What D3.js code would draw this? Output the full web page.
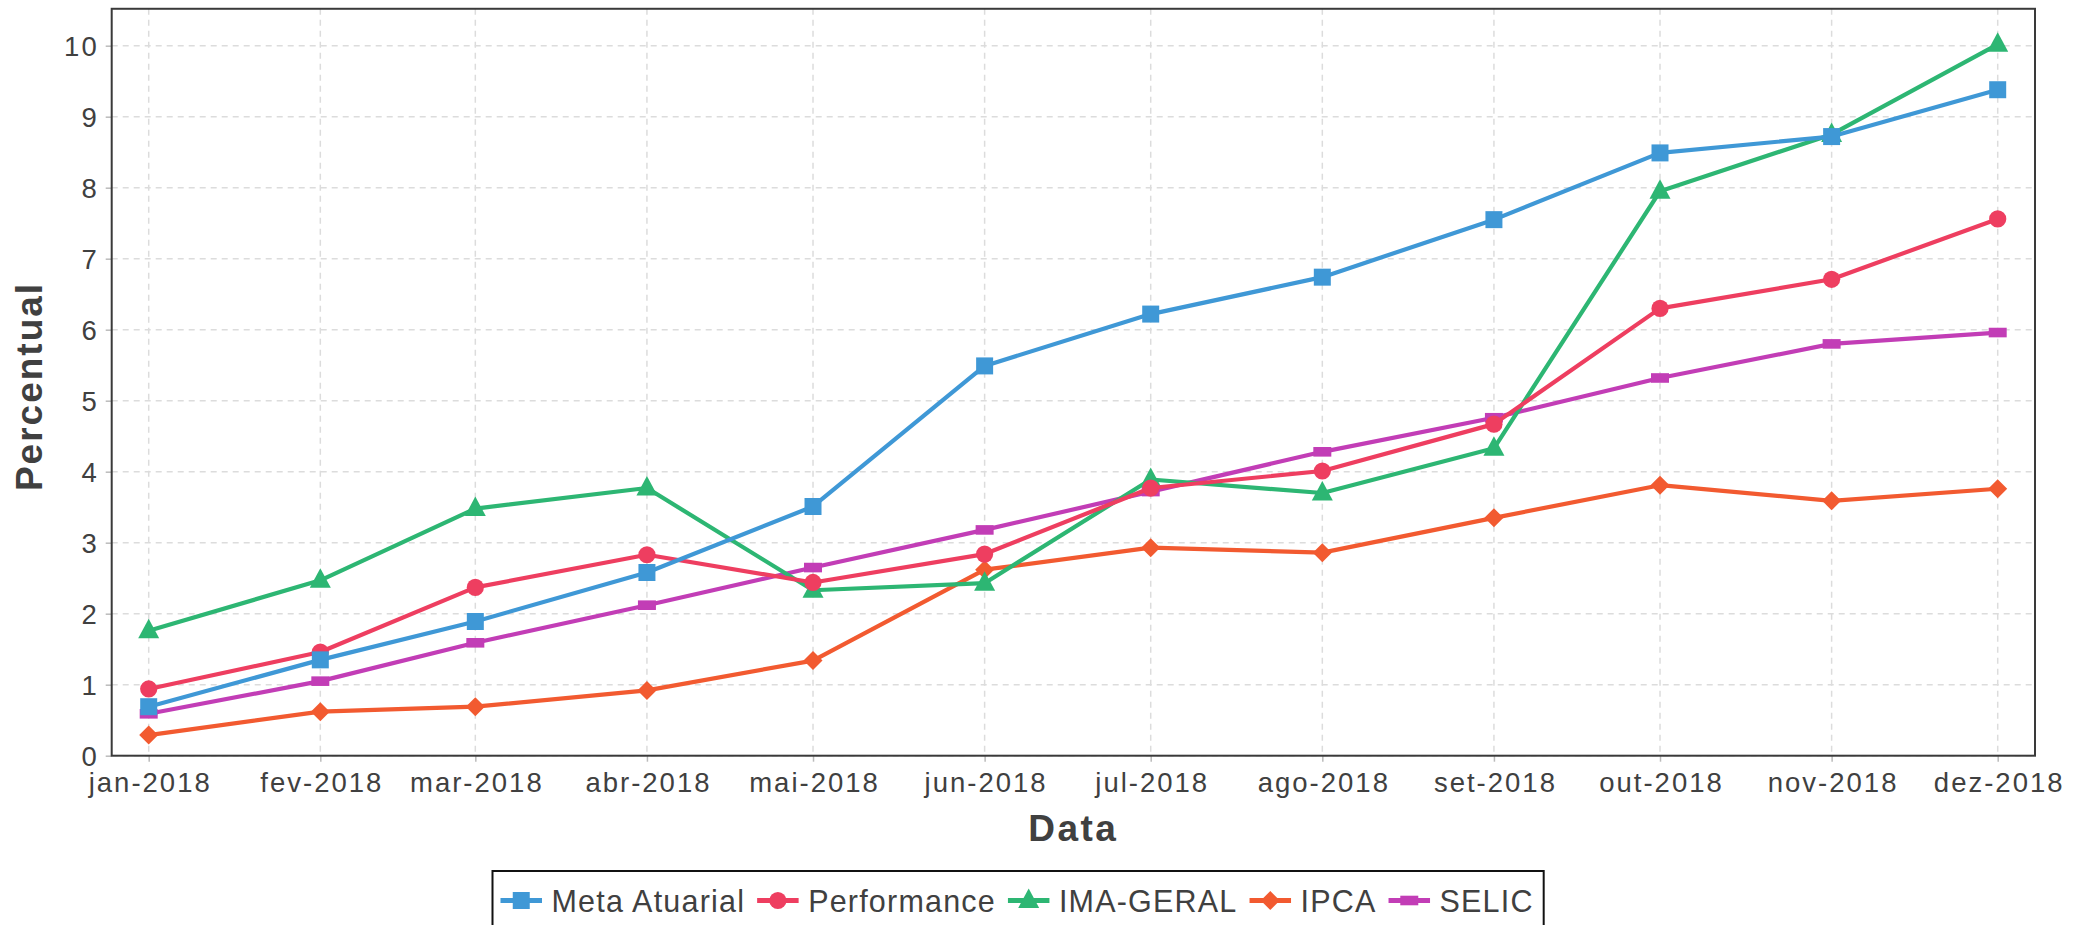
<!DOCTYPE html>
<html><head><meta charset="utf-8">
<script src="https://cdn.jsdelivr.net/npm/d3@7"></script>
<style>
body{margin:0;background:#fff}
svg{display:block}
text{font-family:"Liberation Sans",Arial,Helvetica,sans-serif;fill:#404040}
</style>
</head><body>
<svg id="chart" width="2083" height="925"></svg>
<script>
// ---- data ----
const monthDates = ["2018-01-01","2018-02-01","2018-03-01","2018-04-01","2018-05-01","2018-06-01","2018-07-01","2018-08-01","2018-09-01","2018-10-01","2018-11-01","2018-12-01"];
const monthLabels = ["jan-2018","fev-2018","mar-2018","abr-2018","mai-2018","jun-2018","jul-2018","ago-2018","set-2018","out-2018","nov-2018","dez-2018"];
const metaAtuarial = [0.69,1.35,1.89,2.58,3.51,5.49,6.22,6.74,7.55,8.49,8.72,9.38];
const performance  = [0.94,1.46,2.37,2.83,2.44,2.84,3.77,4.01,4.67,6.30,6.71,7.56];
const imaGeral     = [1.76,2.47,3.48,3.77,2.33,2.43,3.89,3.70,4.33,7.95,8.75,10.02];
const ipca         = [0.29,0.62,0.69,0.92,1.34,2.62,2.93,2.86,3.35,3.81,3.59,3.76];
const selic        = [0.59,1.05,1.59,2.12,2.65,3.18,3.72,4.28,4.76,5.32,5.80,5.96];
const yTickValues  = [0,1,2,3,4,5,6,7,8,9,10];
const seriesNames  = ["Meta Atuarial","Performance","IMA-GERAL","IPCA","SELIC"];
const seriesColors = ["#3f98d6","#ee3e60","#2db673","#f25a30","#c23db6"];
const seriesShapes = ["square","circle","triangle","diamond","rect"];
const xAxisTitle = "Data";
const yAxisTitle = "Percentual";

// ---- layout ----
const svg = d3.select("#chart");
const parse = d3.timeParse("%Y-%m-%d");
const dates = monthDates.map(parse);
const plotL = 111.7, plotR = 2035, plotB = 755.7;
const x = d3.scaleTime().domain([dates[0], dates[dates.length-1]]).range([148.7, 1997.7]);
const y = d3.scaleLinear().domain([0, 10]).range([plotB, 45.7]);
const plotT = y(10.52);

const series = seriesNames.map((n,i)=>({name:n, values:[metaAtuarial,performance,imaGeral,ipca,selic][i], color:seriesColors[i], shape:seriesShapes[i]}));

function markerPath(shape){
  switch(shape){
    case "square": return "M-8.5,-8.5H8.5V8.5H-8.5Z";
    case "circle": return d3.symbol(d3.symbolCircle, Math.PI*8.6*8.6)();
    case "triangle": return "M0,-12L10.5,7.5L-10.5,7.5Z";
    case "diamond": return "M0,-9.5L9.5,0L0,9.5L-9.5,0Z";
    case "rect": return "M-9,-4.8H9V4.8H-9Z";
  }
}

// grid
const grid = svg.append("g");
grid.selectAll(".hg").data(yTickValues).join("line")
  .attr("x1", plotL).attr("x2", plotR).attr("y1", d=>y(d)).attr("y2", d=>y(d))
  .attr("stroke","#dcdcdc").attr("stroke-width",1.5).attr("stroke-dasharray","6,5");
grid.selectAll(".vg").data(dates).join("line")
  .attr("x1", d=>x(d)).attr("x2", d=>x(d)).attr("y1", plotT).attr("y2", plotB)
  .attr("stroke","#dcdcdc").attr("stroke-width",1.5).attr("stroke-dasharray","6,5");

// axes
const xAxis = d3.axisBottom(x).tickValues(dates).tickFormat((d,i)=>monthLabels[i]).tickSize(6).tickPadding(8);
const gx = svg.append("g").attr("transform",`translate(0,${plotB})`).call(xAxis);
gx.select(".domain").remove();
gx.selectAll(".tick line").attr("stroke","#bbb").attr("stroke-width",1.5);
gx.selectAll(".tick text").attr("font-size",27.5).attr("letter-spacing","2px").attr("fill","#404040")
  .attr("font-family","Liberation Sans, Arial, sans-serif").attr("y",null).attr("dy",null).attr("dominant-baseline",null)
  .attr("transform","translate(1,36.3)");

const yAxis = d3.axisLeft(y).tickValues(yTickValues).tickFormat(d3.format("d")).tickSize(6).tickPadding(8);
const gy = svg.append("g").attr("transform",`translate(${plotL},0)`).call(yAxis);
gy.select(".domain").remove();
gy.selectAll(".tick line").attr("stroke","#bbb").attr("stroke-width",1.5);
gy.selectAll(".tick text").attr("font-size",27.5).attr("letter-spacing","2px").attr("fill","#404040")
  .attr("font-family","Liberation Sans, Arial, sans-serif").attr("x",-13).attr("dy","0.35em");

// frame
svg.append("rect").attr("x",plotL).attr("y",plotT).attr("width",plotR-plotL).attr("height",plotB-plotT)
  .attr("fill","none").attr("stroke","#3a3a3a").attr("stroke-width",2);

// series (drawn in reverse so Meta Atuarial is on top)
const line = d3.line().x((d,i)=>x(dates[i])).y(d=>y(d));
series.slice().reverse().forEach(s=>{
  const g = svg.append("g");
  g.append("path").datum(s.values).attr("d",line).attr("fill","none")
    .attr("stroke",s.color).attr("stroke-width",4.2).attr("stroke-linejoin","round");
  g.selectAll("path.m").data(s.values).join("path").attr("class","m")
    .attr("d",markerPath(s.shape)).attr("fill",s.color)
    .attr("transform",(d,i)=>`translate(${x(dates[i])},${y(d)})`);
});

// axis titles
svg.append("text").attr("x",(plotL+plotR)/2).attr("y",841).attr("text-anchor","middle")
  .attr("font-size",37).attr("font-weight","bold").attr("letter-spacing","2.5px").text(xAxisTitle);
svg.append("text").attr("transform",`translate(41.7,${386.5}) rotate(-90)`).attr("text-anchor","middle")
  .attr("font-size",37).attr("font-weight","bold").attr("letter-spacing","2px").text(yAxisTitle);

// legend
const legX = 492.5, legTop = 871, legCy = 900.5;
const leg = svg.append("g");
const legBox = leg.append("rect").attr("x",legX).attr("y",legTop).attr("height",100)
  .attr("fill","#fff").attr("stroke","#111").attr("stroke-width",2);
let cx = legX + 8;
series.forEach(s=>{
  leg.append("line").attr("x1",cx).attr("x2",cx+41.5).attr("y1",legCy).attr("y2",legCy)
    .attr("stroke",s.color).attr("stroke-width",5);
  leg.append("path").attr("d",markerPath(s.shape)).attr("fill",s.color)
    .attr("transform",`translate(${cx+20.75},${legCy})`);
  const t = leg.append("text").attr("x",cx+51).attr("y",911.7).attr("font-size",30.5)
    .attr("letter-spacing","1.2px").text(s.name);
  const w = t.node().getComputedTextLength();
  cx = cx + 51 + w + 12;
});
legBox.attr("width", cx - legX - 2);
</script>
</body></html>
